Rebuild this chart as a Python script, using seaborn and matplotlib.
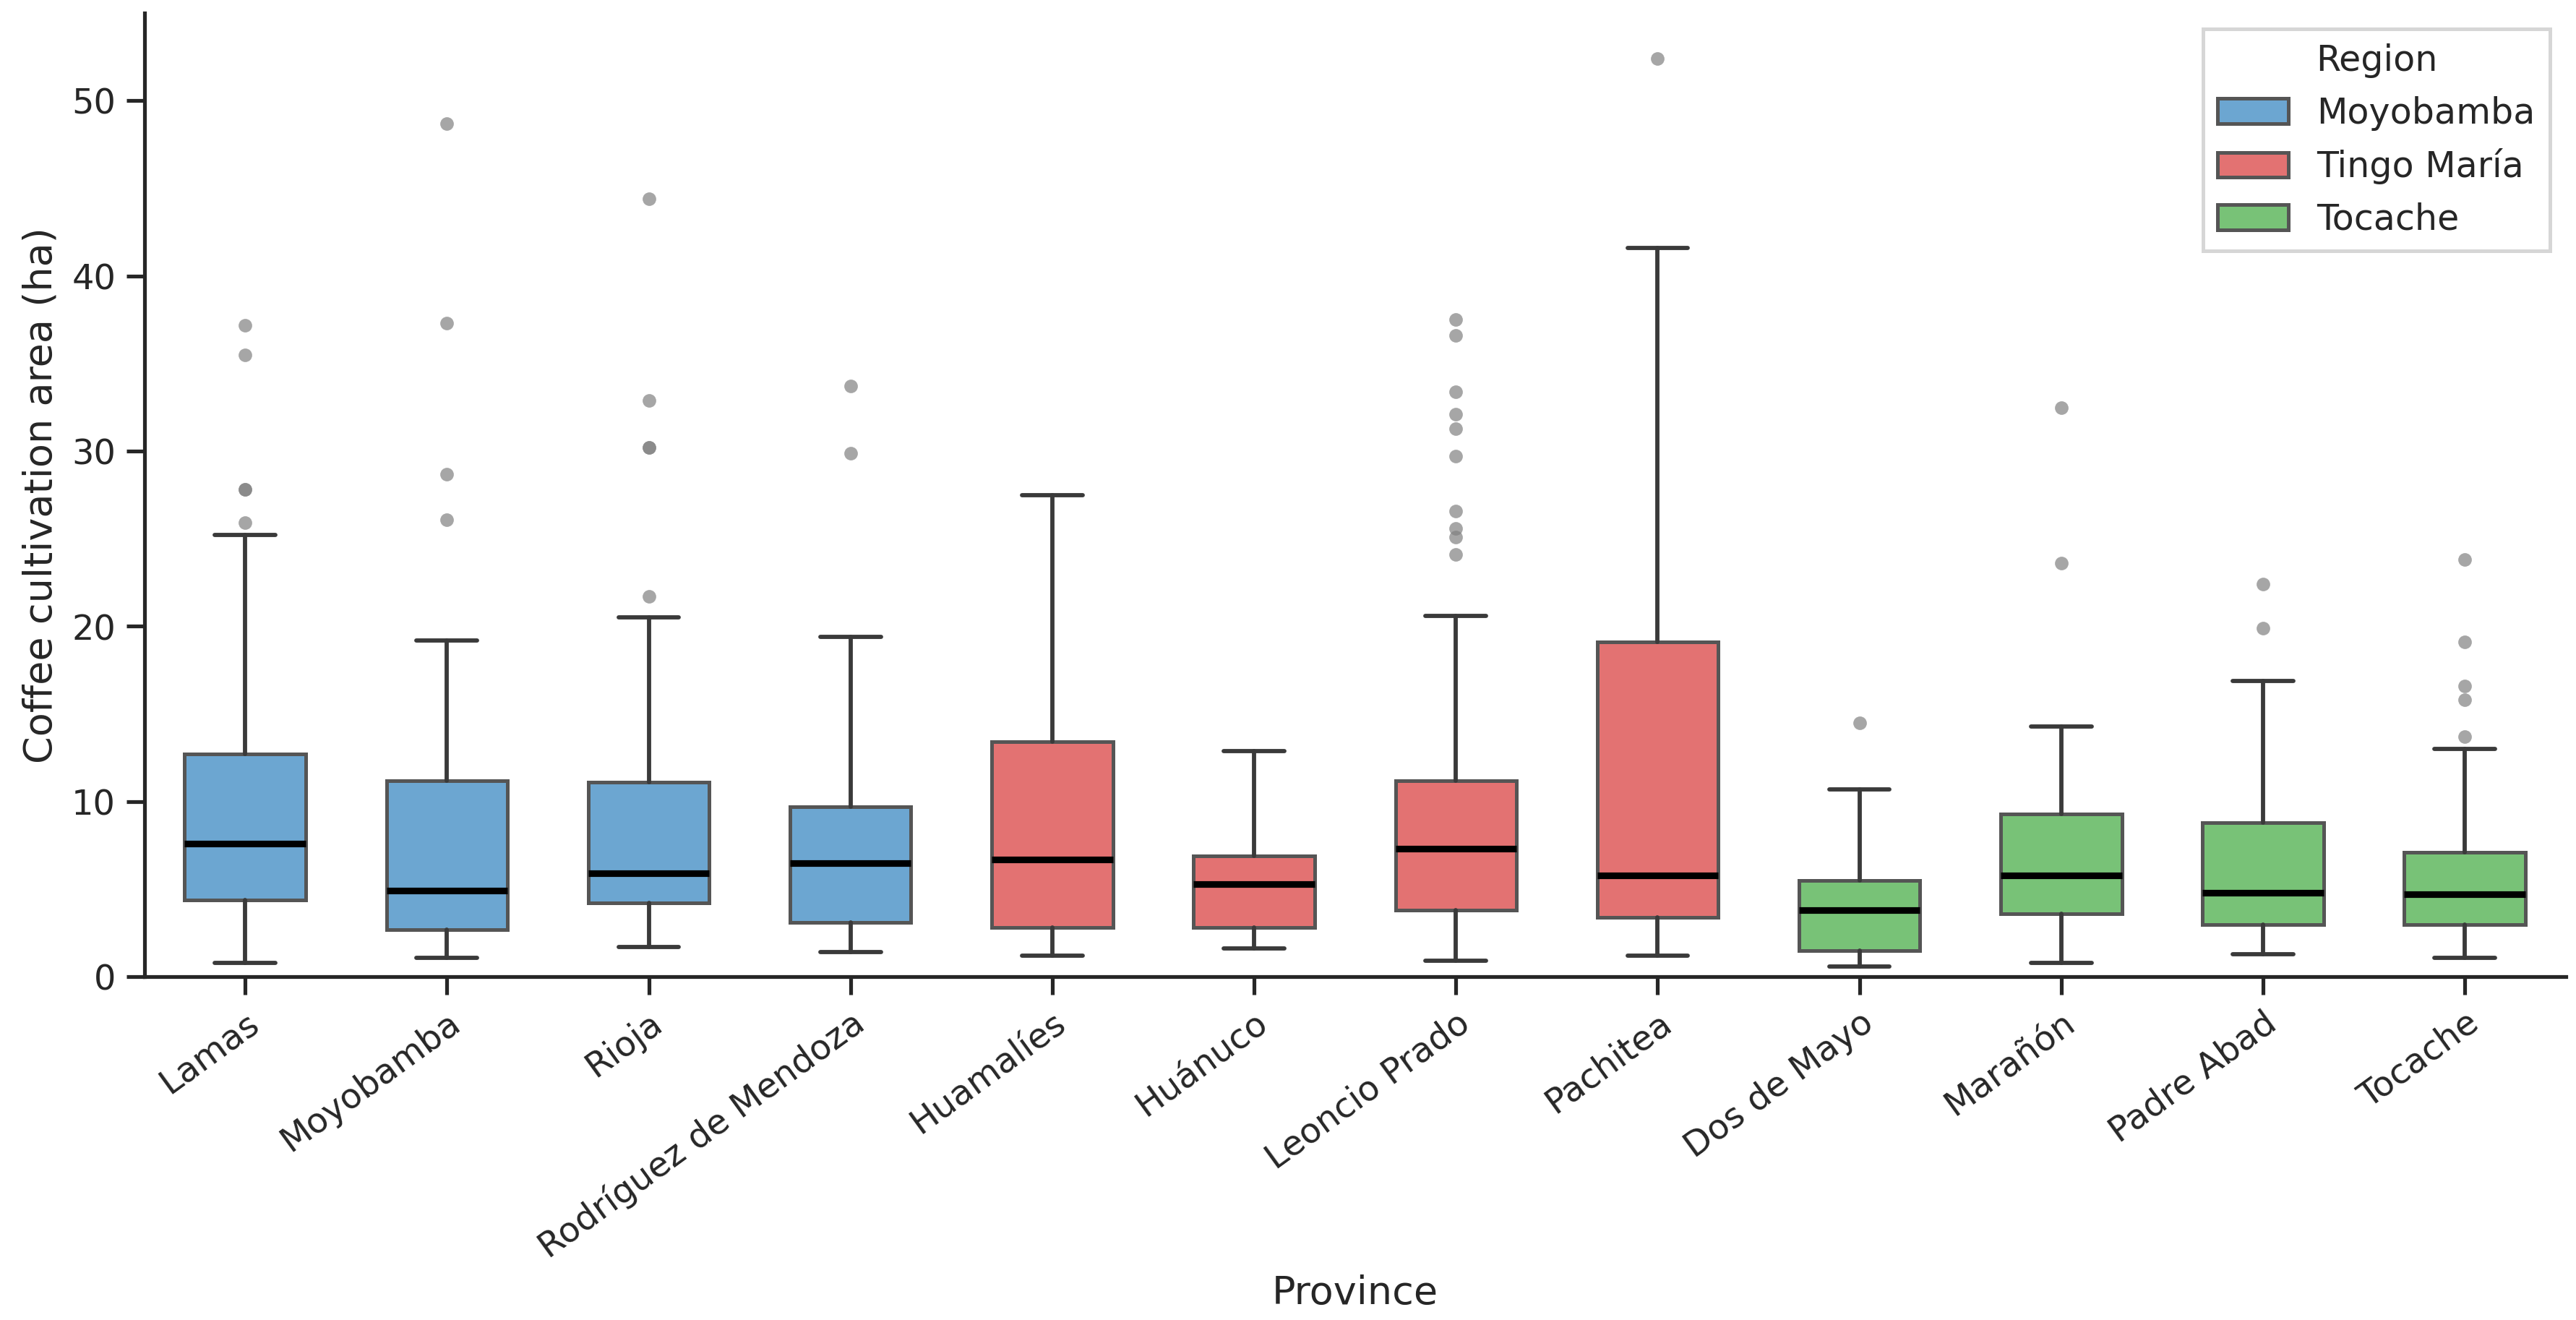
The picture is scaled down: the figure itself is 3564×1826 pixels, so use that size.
import matplotlib
matplotlib.use("Agg")
import matplotlib.pyplot as plt
from matplotlib.patches import Patch
import seaborn as sns

# --------------------------------------
# Data (summary stats per province)
# --------------------------------------
provinces = ["Lamas", "Moyobamba", "Rioja", "Rodríguez de Mendoza",
             "Huamalíes", "Huánuco", "Leoncio Prado", "Pachitea",
             "Dos de Mayo", "Marañón", "Padre Abad", "Tocache"]
regions = ["Moyobamba", "Moyobamba", "Moyobamba", "Moyobamba",
           "Tingo María", "Tingo María", "Tingo María", "Tingo María",
           "Tocache", "Tocache", "Tocache", "Tocache"]

whis_low = [0.8, 1.1, 1.7, 1.4, 1.2, 1.6, 0.9, 1.2, 0.6, 0.8, 1.3, 1.1]
q1 = [4.4, 2.7, 4.2, 3.1, 2.8, 2.8, 3.8, 3.4, 1.5, 3.6, 3.0, 3.0]
median = [7.6, 4.9, 5.9, 6.5, 6.7, 5.3, 7.3, 5.8, 3.8, 5.8, 4.8, 4.7]
q3 = [12.7, 11.2, 11.1, 9.7, 13.4, 6.9, 11.2, 19.1, 5.5, 9.3, 8.8, 7.1]
whis_high = [25.2, 19.2, 20.5, 19.4, 27.5, 12.9, 20.6, 41.6, 10.7, 14.3, 16.9, 13.0]
outliers = [
    [37.2, 35.5, 27.8, 27.8, 25.9],
    [48.7, 37.3, 28.7, 26.1],
    [44.4, 32.9, 30.2, 30.2, 21.7],
    [33.7, 29.9],
    [],
    [],
    [37.5, 36.6, 33.4, 32.1, 31.3, 29.7, 26.6, 25.6, 25.1, 24.1],
    [52.4],
    [14.5],
    [32.5, 23.6],
    [22.4, 19.9],
    [23.8, 19.1, 16.6, 15.8, 13.7],
]

region_names = ["Moyobamba", "Tingo María", "Tocache"]
region_colors = ["#6CA6D1", "#E37272", "#78C277"]
palette = dict(zip(region_names, region_colors))

# --------------------------------------
# Plot
# --------------------------------------
sns.set_theme(style="ticks", context="notebook")
plt.rcParams["font.family"] = ["DejaVu Sans"]

fig, ax = plt.subplots(figsize=(11.88, 6.087), dpi=300)

stats = []
for i, name in enumerate(provinces):
    stats.append({
        "label": name,
        "whislo": whis_low[i], "q1": q1[i], "med": median[i],
        "q3": q3[i], "whishi": whis_high[i], "fliers": outliers[i],
    })

bp = ax.bxp(
    stats, positions=range(len(provinces)), widths=0.6, capwidths=0.3,
    patch_artist=True, showfliers=True,
    boxprops=dict(edgecolor="#555555", linewidth=1.2),
    whiskerprops=dict(color="#3a3a3a", linewidth=1.4),
    capprops=dict(color="#3a3a3a", linewidth=1.4),
    medianprops=dict(color="black", linewidth=2.2),
    flierprops=dict(marker="o", markerfacecolor="#808080", markeredgecolor="none",
                    markersize=4.5, alpha=0.7),
)
for patch, reg in zip(bp["boxes"], regions):
    patch.set_facecolor(palette[reg])

ax.set_xlim(-0.5, len(provinces) - 0.5)
ax.set_ylim(0, 55)
ax.set_yticks([0, 10, 20, 30, 40, 50])
ax.set_xticks(range(len(provinces)))
ax.set_xticklabels(provinces, rotation=36, ha="right", rotation_mode="anchor")
ax.tick_params(axis="both", labelsize=11.5)
ax.set_xlabel("Province", fontsize=13, labelpad=3)
ax.set_ylabel("Coffee cultivation area (ha)", fontsize=13)
sns.despine(ax=ax)

handles = [Patch(facecolor=palette[r], edgecolor="#555555", linewidth=1.2, label=r)
           for r in region_names]
leg = ax.legend(handles=handles, title="Region", loc="upper right",
                fontsize=11.8, title_fontsize=11.8, fancybox=False,
                borderaxespad=0.45)
leg.get_frame().set_edgecolor("#cccccc")
leg.get_frame().set_linewidth(1.2)

fig.subplots_adjust(left=0.056, right=0.996, top=0.99, bottom=0.26)
fig.savefig("out.png", dpi=300)
